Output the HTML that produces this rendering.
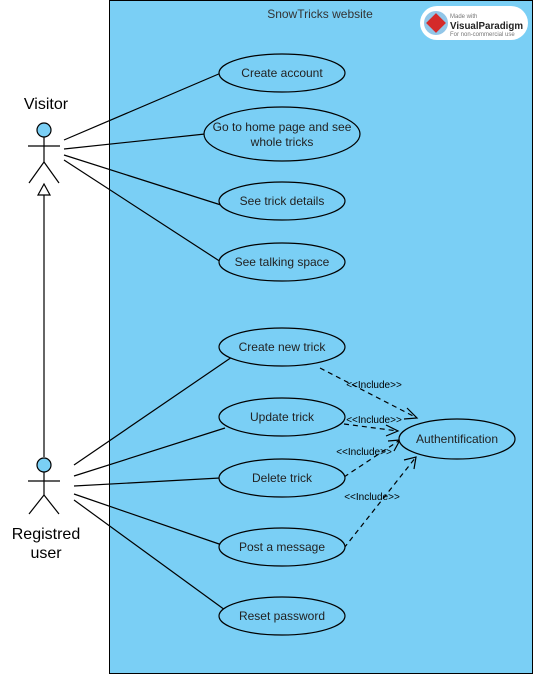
<!DOCTYPE html>
<html><head><style>body{margin:0;background:#fff}svg{display:block}text{font-family:"Liberation Sans",sans-serif}</style></head>
<body>
<svg width="534" height="674" viewBox="0 0 534 674">
<rect x="109.5" y="0.5" width="423" height="673" fill="#7ACFF5" stroke="#000"/>
<text x="320" y="18" font-size="12" text-anchor="middle" fill="#333">SnowTricks website</text>
<rect x="420" y="6" width="108" height="34" rx="17" fill="#fff"/>
<circle cx="436" cy="23" r="12" fill="#4aa0d8" opacity="0.6"/>
<rect x="429" y="16" width="14" height="14" fill="#d42a2a" transform="rotate(45 436 23)"/>
<text x="450" y="18" font-size="6" fill="#777">Made with</text>
<text x="450" y="29" font-size="10" font-weight="bold" fill="#222" textLength="73" lengthAdjust="spacingAndGlyphs">VisualParadigm</text>
<text x="450" y="36" font-size="6" fill="#777">For non-commercial use</text>
<g fill="none" stroke="#000" stroke-width="1.2">
<circle cx="44" cy="130" r="7" fill="#7ACFF5"/>
<line x1="44" y1="137" x2="44" y2="162"/><line x1="28" y1="146" x2="60" y2="146"/>
<line x1="44" y1="162" x2="29" y2="183"/><line x1="44" y1="162" x2="59" y2="183"/>
<circle cx="44" cy="465" r="7" fill="#7ACFF5"/>
<line x1="44" y1="472" x2="44" y2="495"/><line x1="28" y1="481" x2="60" y2="481"/>
<line x1="44" y1="495" x2="29" y2="514"/><line x1="44" y1="495" x2="59" y2="514"/>
<line x1="44" y1="457" x2="44" y2="195"/>
<polygon points="44,184 38,195 50,195" fill="#fff"/>
<line x1="64" y1="140" x2="221" y2="73"/>
<line x1="64" y1="149" x2="205" y2="134"/>
<line x1="64" y1="155" x2="221" y2="205"/>
<line x1="64" y1="160" x2="221" y2="262"/>
<line x1="74" y1="465" x2="232" y2="357"/>
<line x1="74" y1="476" x2="225" y2="428"/>
<line x1="74" y1="486" x2="220" y2="478"/>
<line x1="74" y1="494" x2="222" y2="545"/>
<line x1="74" y1="500" x2="225" y2="610"/>
<g stroke-dasharray="5,4">
<line x1="320" y1="368" x2="417" y2="418"/>
<line x1="344" y1="424" x2="398" y2="431"/>
<line x1="344" y1="477" x2="400" y2="440"/>
<line x1="344" y1="548" x2="416" y2="457"/>
</g>
<polyline points="407,408 417,418 404,419"/>
<polyline points="386,425 398,431 386,436"/>
<polyline points="388,441 400,440 394,451"/>
<polyline points="404,460 416,457 414,469"/>
</g>
<g fill="#7ACFF5" stroke="#000" stroke-width="1.2">
<ellipse cx="282" cy="73" rx="63" ry="19"/>
<ellipse cx="282" cy="134" rx="78" ry="27"/>
<ellipse cx="282" cy="201" rx="63" ry="19"/>
<ellipse cx="282" cy="262" rx="63" ry="19"/>
<ellipse cx="282" cy="347" rx="63" ry="19"/>
<ellipse cx="282" cy="417" rx="63" ry="19"/>
<ellipse cx="282" cy="478" rx="63" ry="19"/>
<ellipse cx="282" cy="547" rx="63" ry="19"/>
<ellipse cx="282" cy="616" rx="63" ry="19"/>
<ellipse cx="457" cy="439" rx="58" ry="20"/>
</g>
<g font-size="12" text-anchor="middle" fill="#222">
<text x="282" y="77">Create account</text>
<text x="282" y="131">Go to home page and see</text>
<text x="282" y="146">whole tricks</text>
<text x="282" y="205">See trick details</text>
<text x="282" y="266">See talking space</text>
<text x="282" y="351">Create new trick</text>
<text x="282" y="421">Update trick</text>
<text x="282" y="482">Delete trick</text>
<text x="282" y="551">Post a message</text>
<text x="282" y="620">Reset password</text>
<text x="457" y="443">Authentification</text>
</g>
<g font-size="10" fill="#000" text-anchor="middle">
<text x="374" y="388">&lt;&lt;Include&gt;&gt;</text>
<text x="374" y="423">&lt;&lt;Include&gt;&gt;</text>
<text x="364" y="455">&lt;&lt;Include&gt;&gt;</text>
<text x="372" y="500">&lt;&lt;Include&gt;&gt;</text>
</g>
<g font-size="16" text-anchor="middle" fill="#000">
<text x="46" y="109">Visitor</text>
<text x="46" y="539">Registred</text>
<text x="46" y="558">user</text>
</g>
</svg>
</body></html>
